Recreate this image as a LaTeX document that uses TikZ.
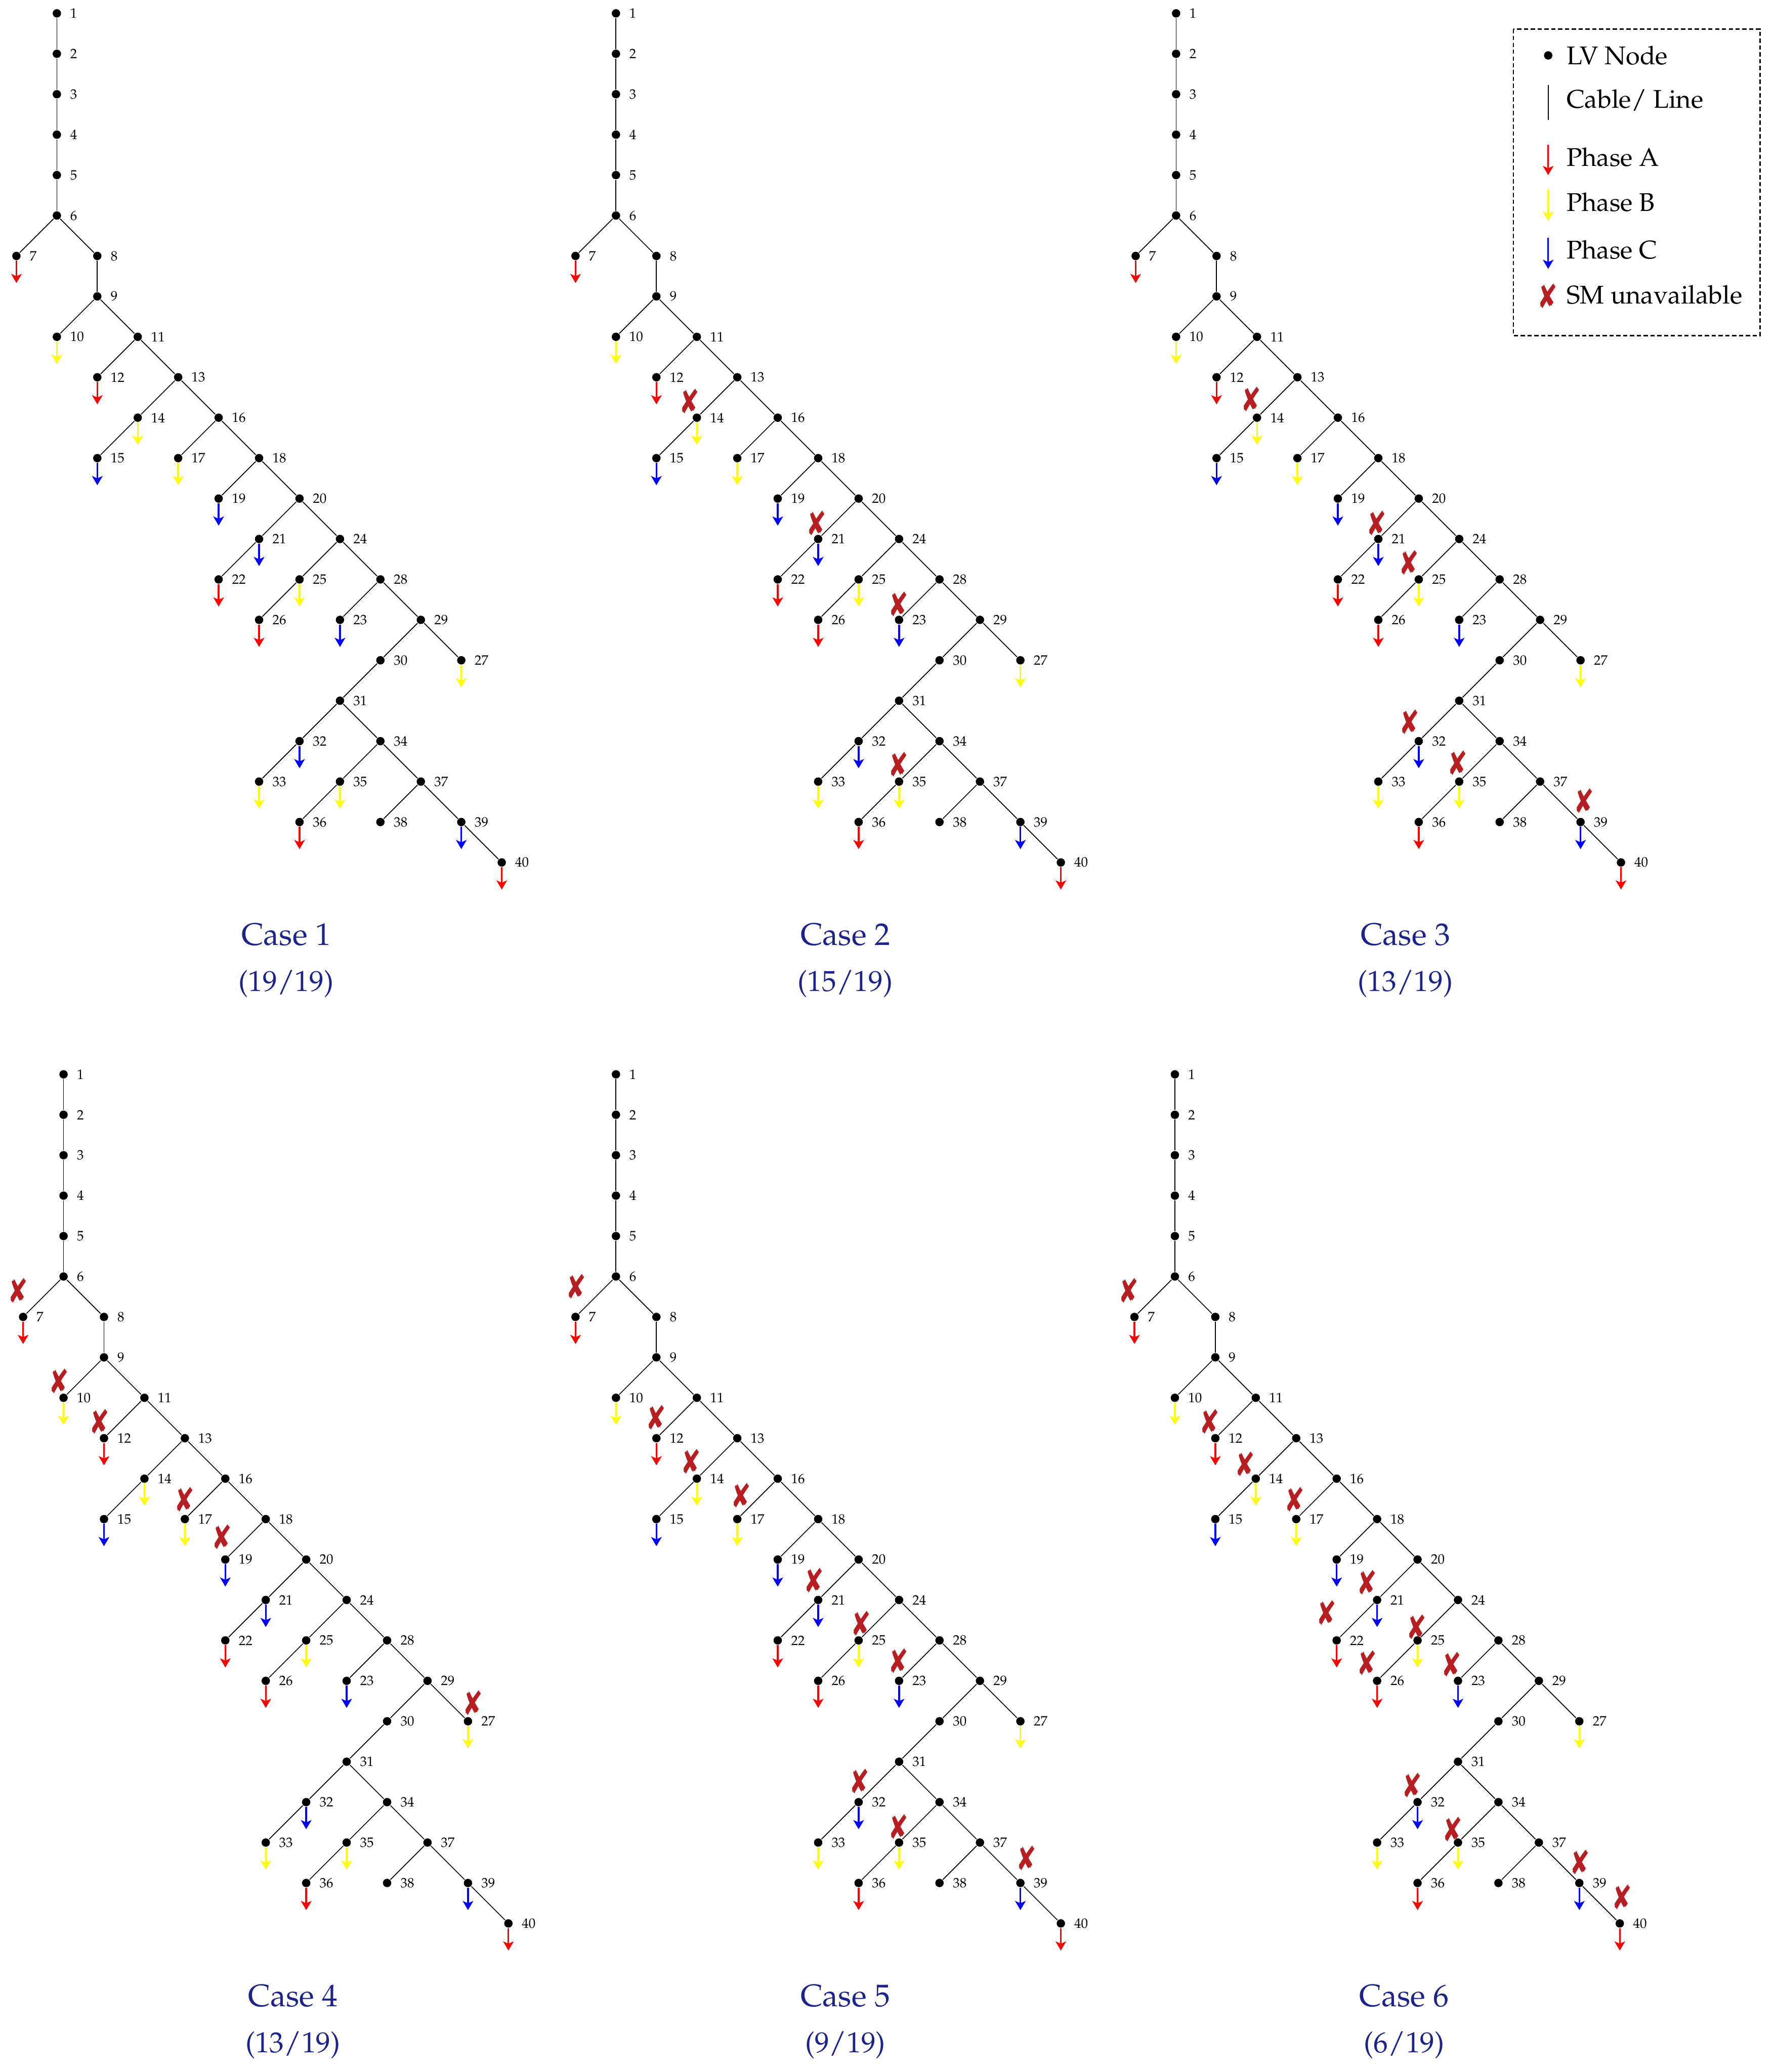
\documentclass[tikz,border=0pt]{standalone}
\usepackage[T1]{fontenc}
\usepackage{mathpazo}
\usepackage{pifont}
\usepackage{graphicx}
\usetikzlibrary{arrows.meta,positioning}
\definecolor{phA}{RGB}{255,0,0}
\definecolor{phB}{RGB}{255,255,0}
\definecolor{phC}{RGB}{0,0,255}
\definecolor{smred}{RGB}{182,30,34}
\definecolor{capblue}{RGB}{28,36,140}
\newcommand{\smcross}{\scalebox{0.74}[1]{\ding{56}}}

% one LV feeder: #1 prefix, #2/#3 offset of node 1, #4 case, #5 ratio
\newcommand{\lvfeeder}[5]{%
  \begin{scope}[shift={(#2,-#3)}]
    \foreach \n/\x/\y in {1/0/0,2/0/1,3/0/2,4/0/3,5/0/4,6/0/5,7/-1/6,8/1/6,
        9/1/7,10/0/8,11/2/8,12/1/9,13/3/9,14/2/10,15/1/11,16/4/10,17/3/11,
        18/5/11,19/4/12,20/6/12,21/5/13,22/4/14,24/7/13,25/6/14,26/5/15,
        28/8/14,23/7/15,29/9/15,30/8/16,27/10/16,31/7/17,32/6/18,33/5/19,
        34/8/18,35/7/19,36/6/20,37/9/19,38/8/20,39/10/20,40/11/21}{
      \node[lvnode] (#1-\n) at (\x,-\y) {};
      \node[nodelbl, right=0.1cm of #1-\n] (#1-\n-t) {\n};
    }
    \foreach \a/\b in {1/2,2/3,3/4,4/5,5/6,6/7,6/8,8/9,9/10,9/11,11/12,11/13,
        13/14,14/15,13/16,16/17,16/18,18/19,18/20,20/21,21/22,20/24,24/25,
        25/26,24/28,28/23,28/29,29/30,29/27,30/31,31/32,32/33,31/34,34/35,
        35/36,34/37,37/38,37/39,39/40}
      \draw[cable] (#1-\a) -- (#1-\b);
    % loads per phase
    \foreach \n in {7,12,22,26,36,40}{
      \path (#1-\n) ++(0,-0.67) coordinate (#1-\n-ld);
      \draw[phasea] (#1-\n) -- (#1-\n-ld);
    }
    \foreach \n in {10,14,17,25,27,33,35}{
      \path (#1-\n) ++(0,-0.67) coordinate (#1-\n-ld);
      \draw[phaseb] (#1-\n) -- (#1-\n-ld);
    }
    \foreach \n in {15,19,21,23,32,39}{
      \path (#1-\n) ++(0,-0.67) coordinate (#1-\n-ld);
      \draw[phasec] (#1-\n) -- (#1-\n-ld);
    }
    \node[casecap] (#1-cap) at (5.67,-23.05) {Case #4};
    \node[casecap, font=\fontsize{10.2}{12}\selectfont] (#1-rat) at (5.67,-24.19) {(#5)};
  \end{scope}}

\begin{document}
\begin{tikzpicture}[x=0.5cm, y=0.5cm,
  lvnode/.style={circle, fill=black, inner sep=0pt, minimum size=2.95pt},
  nodelbl/.style={inner sep=0pt, font=\fontsize{4.8}{5}\selectfont},
  cable/.style={draw=black, line width=0.3pt},
  phasea/.style={draw=phA, line width=0.6pt, -{Stealth[length=3.2pt, width=3.7pt, inset=0.8pt]}},
  phaseb/.style={phasea, draw=phB},
  phasec/.style={phasea, draw=phC},
  smx/.style={inner sep=0pt, text=smred, font=\fontsize{12}{12}\selectfont},
  casecap/.style={anchor=base, inner sep=0pt, text=capblue, font=\fontsize{11}{13}\selectfont},
  legtext/.style={anchor=west, inner sep=0pt, font=\fontsize{9}{11}\selectfont},
  legendbox/.style={draw=black, line width=0.45pt, dash pattern=on 1.5pt off 0.9pt}
]
\useasboundingbox (0,0) rectangle (43.886,-51.245);

\lvfeeder{c1}{1.406}{0.33}{1}{19/19}
\lvfeeder{c2}{15.23}{0.33}{2}{15/19}
\lvfeeder{c3}{29.08}{0.33}{3}{13/19}
\lvfeeder{c4}{1.571}{26.57}{4}{13/19}
\lvfeeder{c5}{15.23}{26.57}{5}{9/19}
\lvfeeder{c6}{29.05}{26.57}{6}{6/19}

% smart meters unavailable
\foreach \n/\dx/\dy in {14/-0.17/0.41, 21/-0.03/0.39, 23/0/0.39, 35/0/0.42}
  \node[smx] (c2-x\n) at ([shift={(\dx,\dy)}]c2-\n) {\smcross};
\foreach \n/\dx/\dy in {14/-0.13/0.46, 21/-0.03/0.39, 25/-0.23/0.42,
    32/-0.22/0.48, 35/-0.03/0.46, 39/0.1/0.52}
  \node[smx] (c3-x\n) at ([shift={(\dx,\dy)}]c3-\n) {\smcross};
\foreach \n/\dx/\dy in {7/-0.11/0.66, 10/-0.1/0.42, 12/-0.1/0.42,
    17/0/0.49, 19/-0.07/0.56, 27/0.13/0.46}
  \node[smx] (c4-x\n) at ([shift={(\dx,\dy)}]c4-\n) {\smcross};
\foreach \n/\dx/\dy in {7/0.03/0.75, 12/0/0.52, 14/-0.13/0.42, 17/0.1/0.59,
    21/-0.1/0.49, 25/0.07/0.42, 23/0/0.49, 32/0.03/0.52, 35/0/0.39, 39/0.16/0.62}
  \node[smx] (c5-x\n) at ([shift={(\dx,\dy)}]c5-\n) {\smcross};
\foreach \n/\dx/\dy in {7/-0.13/0.65, 12/-0.13/0.42, 14/-0.26/0.36,
    17/-0.03/0.49, 21/-0.24/0.43, 22/-0.24/0.68, 26/-0.24/0.45, 25/-0.02/0.34,
    23/-0.15/0.41, 32/-0.13/0.42, 35/-0.13/0.33, 39/0.03/0.52, 40/0.07/0.65}
  \node[smx] (c6-x\n) at ([shift={(\dx,\dy)}]c6-\n) {\smcross};

% legend
\draw[legendbox] (37.42,-0.72) rectangle (43.52,-8.30);
\node[lvnode] (lg-dot) at (38.28,-1.37) {};
\node[legtext] (lg-t1) at (38.72,-1.37) {LV Node};
\coordinate (lg-l1) at (38.28,-2.10);
\coordinate (lg-l2) at (38.28,-2.97);
\draw[cable] (lg-l1) -- (lg-l2);
\node[legtext] (lg-t2) at (38.72,-2.48) {Cable/ Line};
\coordinate (lg-a1) at (38.28,-3.58);
\coordinate (lg-a2) at (38.28,-4.33);
\draw[phasea] (lg-a1) -- (lg-a2);
\node[legtext] (lg-t3) at (38.72,-3.89) {Phase A};
\coordinate (lg-b1) at (38.28,-4.69);
\coordinate (lg-b2) at (38.28,-5.46);
\draw[phaseb] (lg-b1) -- (lg-b2);
\node[legtext] (lg-t4) at (38.72,-5.00) {Phase B};
\coordinate (lg-c1) at (38.28,-5.88);
\coordinate (lg-c2) at (38.28,-6.65);
\draw[phasec] (lg-c1) -- (lg-c2);
\node[legtext] (lg-t5) at (38.72,-6.18) {Phase C};
\node[smx] (lg-x) at (38.28,-7.32) {\smcross};
\node[legtext] (lg-t6) at (38.72,-7.29) {SM unavailable};
\end{tikzpicture}
\end{document}
